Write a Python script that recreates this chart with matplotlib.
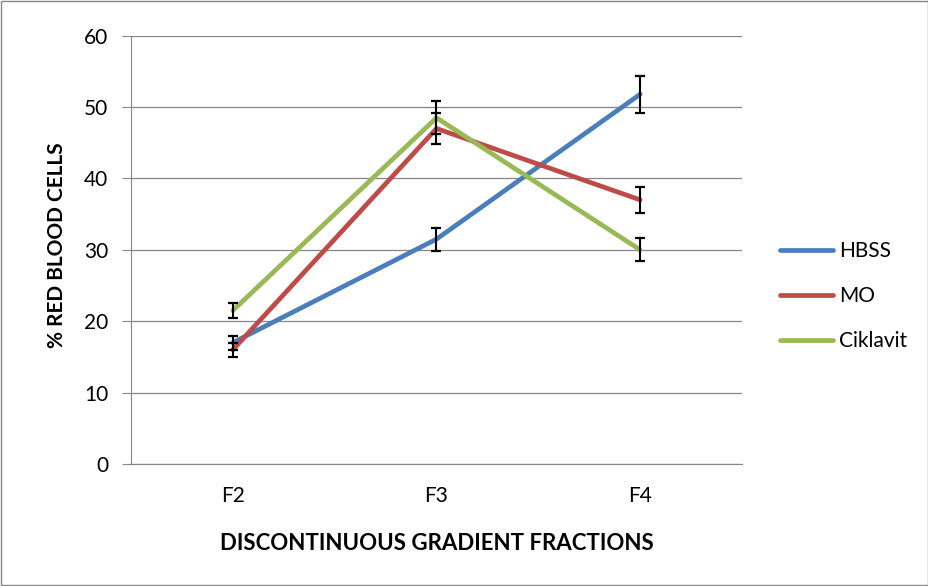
import matplotlib
matplotlib.use('Agg')
import matplotlib.pyplot as plt
from matplotlib.patches import Rectangle

plt.rcParams['font.family'] = ['Lato', 'DejaVu Sans']

# Data
fractions = ['F2', 'F3', 'F4']
hbss = [17.0, 31.5, 51.8]
hbss_err = [1.0, 1.6, 2.6]
mo = [16.0, 47.0, 37.0]
mo_err = [1.0, 2.2, 1.8]
ciklavit = [21.5, 48.5, 30.0]
ciklavit_err = [1.0, 2.3, 1.6]

series = [('HBSS', hbss, hbss_err, '#4A7EBB'),
          ('MO', mo, mo_err, '#BE4B48'),
          ('Ciklavit', ciklavit, ciklavit_err, '#98B954')]

W, H = 929, 586
fig = plt.figure(figsize=(W / 100, H / 100), dpi=100)
# plot area in pixels: x 131..742, y 35.7..464
ax = fig.add_axes([131 / W, (H - 464) / H, 611 / W, 428.3 / H])

x = list(range(len(fractions)))
for name, vals, err, col in series:
    ax.plot(x, vals, color=col, linewidth=3.4, label=name, zorder=3,
            solid_capstyle='round')
for name, vals, err, col in series:
    ax.errorbar(x, vals, yerr=err, fmt='none', ecolor='black',
                elinewidth=1.5, capsize=3.8, capthick=1.6, zorder=4)

ax.set_xlim(-0.5, 2.5)
ax.set_ylim(0, 60)
ax.set_yticks(range(0, 61, 10))
ax.set_xticks(x)
ax.set_xticklabels(fractions)
ax.tick_params(axis='x', length=0, pad=16, labelsize=15)
ax.tick_params(axis='y', length=6.5, color='#868686', labelsize=15, pad=10)

ax.yaxis.grid(True, color='#868686', linewidth=0.9)
ax.set_axisbelow(True)
for s in ['top', 'right']:
    ax.spines[s].set_visible(False)
for s in ['left', 'bottom']:
    ax.spines[s].set_color('#868686')

fig.text(436.5 / W, 1 - 544 / H, 'DISCONTINUOUS GRADIENT FRACTIONS',
         fontsize=16, fontweight='bold', ha='center', va='center')
fig.text(57 / W, 1 - 245 / H, '% RED BLOOD CELLS', fontsize=15,
         fontweight='bold', ha='center', va='center', rotation=90)

handles, labels = ax.get_legend_handles_labels()
fig.legend(handles, labels, loc='center left', bbox_to_anchor=(780 / W, 1 - 296 / H),
           frameon=False, fontsize=15, handlelength=2.55, labelspacing=1.2,
           handletextpad=0.3, borderpad=0, borderaxespad=0)

fig.patches.append(Rectangle((0.001, 0.002), 0.998, 0.996, transform=fig.transFigure,
                             fill=False, edgecolor='#868686', linewidth=1))

fig.savefig('out.png', dpi=100)
